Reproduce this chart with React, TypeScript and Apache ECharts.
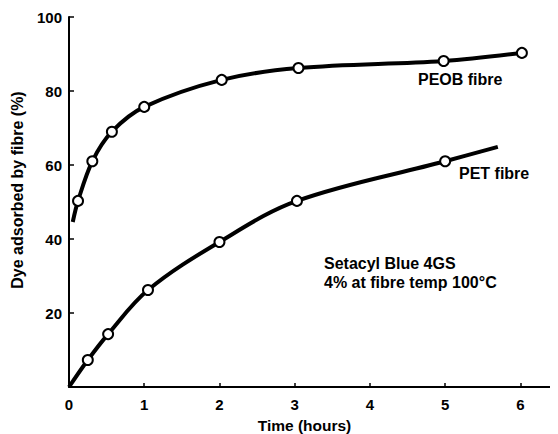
import React, { useEffect, useRef } from "react";
import * as echarts from "echarts";

const xTicks = [0, 1, 2, 3, 4, 5, 6];
const yTicks = [20, 40, 60, 80, 100];
const peobTime = [0.05, 0.12, 0.31, 0.57, 1.0, 2.03, 3.05, 4.98, 6.02];
const peobValues = [44.6, 50.3, 61, 69, 75.7, 83, 86.2, 88.1, 90.3];
const peobMarked = [false, true, true, true, true, true, true, true, true];
const petTime = [0, 0.25, 0.52, 1.05, 2.0, 3.03, 5.0, 5.7];
const petValues = [0, 7.3, 14.3, 26.2, 39.2, 50.3, 61, 64.9];
const petMarked = [false, true, true, true, true, true, true, false];

const FONT = "'Liberation Sans', Arial, sans-serif";

function build(times: number[], vals: number[], marked: boolean[]) {
  return times.map((t, i) => ({
    value: [t, vals[i]],
    symbol: marked[i] ? "circle" : "none",
  }));
}

export default function App() {
  const ref = useRef<HTMLDivElement>(null);
  useEffect(() => {
    if (!ref.current) return;
    const chart = echarts.init(ref.current, null, { renderer: "svg" });
    const seriesStyle = {
      type: "line" as const,
      smooth: 0.35,
      symbolSize: 10,
      lineStyle: { color: "#000", width: 4 },
      itemStyle: { color: "#fff", borderColor: "#000", borderWidth: 2 },
      z: 3,
    };
    const bold = { fontFamily: FONT, fontWeight: "bold" as const, color: "#000" };
    chart.setOption({
      animation: false,
      backgroundColor: "#fff",
      textStyle: { fontFamily: FONT },
      grid: { left: 61, right: 0, top: 9, bottom: 47, outerBoundsMode: "none", containLabel: false },
      xAxis: {
        type: "value",
        min: 0,
        max: 6.5,
        interval: 1,
        name: "Time (hours)",
        nameLocation: "middle",
        nameGap: 30,
        nameTextStyle: { ...bold, fontSize: 15.5, padding: [0, 18, 0, 0] },
        axisLine: { lineStyle: { color: "#000", width: 2 } },
        axisTick: { show: true, inside: true, length: 4, lineStyle: { color: "#000", width: 1.5 } },
        axisLabel: {
          ...bold,
          margin: 10,
          fontSize: 15,
          formatter: (v: number) => (xTicks.includes(v) ? String(v) : ""),
        },
        splitLine: { show: false },
      },
      yAxis: {
        type: "value",
        min: 0,
        max: 100,
        interval: 20,
        name: "Dye adsorbed by fibre (%)",
        nameLocation: "middle",
        nameGap: 44,
        nameTextStyle: { ...bold, fontSize: 16, padding: [0, 0, 0, 24] },
        axisLine: { show: true, lineStyle: { color: "#000", width: 2 } },
        axisTick: { show: true, inside: true, length: 5, lineStyle: { color: "#000", width: 1.5 } },
        axisLabel: {
          ...bold,
          margin: 7,
          fontSize: 15,
          formatter: (v: number) => (yTicks.includes(v) ? String(v) : ""),
        },
        splitLine: { show: false },
      },
      series: [
        { ...seriesStyle, name: "PEOB fibre", data: build(peobTime, peobValues, peobMarked) },
        { ...seriesStyle, name: "PET fibre", data: build(petTime, petValues, petMarked) },
      ],
      graphic: [
        {
          type: "text",
          left: 410,
          top: 63,
          style: { text: "PEOB fibre", fontFamily: FONT, fontWeight: "bold", fontSize: 16, fill: "#000" },
        },
        {
          type: "text",
          left: 451,
          top: 157,
          style: { text: "PET fibre", fontFamily: FONT, fontWeight: "bold", fontSize: 16, fill: "#000" },
        },
        {
          type: "text",
          left: 316,
          top: 246,
          style: {
            text: "Setacyl Blue 4GS\n4% at fibre temp 100°C",
            fontFamily: FONT,
            fontWeight: "bold",
            fontSize: 16,
            lineHeight: 19,
            fill: "#000",
          },
        },
      ],
    });
    return () => chart.dispose();
  }, []);
  return <div ref={ref} style={{ width: 550, height: 426 }} />;
}
